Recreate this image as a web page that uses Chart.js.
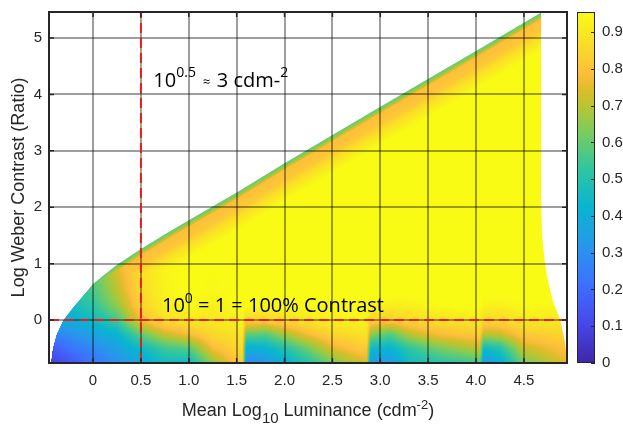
<!DOCTYPE html>
<html>
<head>
<meta charset="utf-8">
<script src="https://cdn.jsdelivr.net/npm/chart.js@4.4.0/dist/chart.umd.min.js"></script>
<style>
html, body { margin: 0; padding: 0; background: #fff; }
</style>
</head>
<body>
<canvas id="contrastChart" width="623" height="424"></canvas>
<script>
// axis ranges and ticks
const lumMin = -0.46, lumMax = 4.95;
const conMin = -0.76, conMax = 5.46;
const barMax = 0.955;
const lumTicks = [0, 0.5, 1, 1.5, 2, 2.5, 3, 3.5, 4, 4.5];
const conTicks = [0, 1, 2, 3, 4, 5];
const barTicks = [0, 0.1, 0.2, 0.3, 0.4, 0.5, 0.6, 0.7, 0.8, 0.9];

// reference lines (10^0.5 cd/m2 and 100% contrast)
const refLum = 0.5;
const refCon = 0;

// upper edge of the measured region
const edgeLum = [-0.44, -0.42, -0.38, -0.31, -0.2, -0.1, 0, 0.1, 0.25, 0.5, 0.75, 1.0, 1.5, 2.0, 3.0, 4.0, 4.67];
const edgeCon = [-0.76, -0.5, -0.25, 0, 0.24, 0.44, 0.64, 0.78, 0.98, 1.26, 1.52, 1.77, 2.26, 2.78, 3.78, 4.77, 5.44];

// right edge of the measured region
const rightCon = [-0.76, -0.4, 0, 0.35, 0.7, 1.0, 1.5, 2.1, 5.44];
const rightLum = [4.95, 4.93, 4.88, 4.8, 4.75, 4.72, 4.69, 4.68, 4.68];

// fall-off just under the upper edge (depth below edge -> value)
const bandDepth = [0, 0.04, 0.08, 0.12, 0.3, 0.45, 0.7];
const bandValue = [0.6, 0.63, 0.7, 0.79, 0.81, 0.88, 0.96];

// main field, rows follow gridCon, columns follow gridLum
const gridLum = [-0.45, -0.25, 0, 0.25, 0.5, 0.75, 1.0, 1.25, 1.5, 1.56, 1.6, 1.8, 2.0, 2.25, 2.5, 2.8, 2.86, 2.9, 3.1, 3.3, 3.6, 4.0, 4.04, 4.08, 4.25, 4.5, 4.95];
const gridCon = [-0.76, -0.5, -0.25, 0, 0.25, 0.5, 1.0, 1.5];
const gridValue = [
    [0.08, 0.14, 0.22, 0.30, 0.38, 0.45, 0.45, 0.65, 0.80, 0.82, 0.28, 0.30, 0.40, 0.50, 0.62, 0.72, 0.72, 0.32, 0.32, 0.45, 0.50, 0.55, 0.58, 0.32, 0.38, 0.62, 0.75],
    [0.15, 0.22, 0.28, 0.35, 0.45, 0.55, 0.58, 0.78, 0.85, 0.86, 0.40, 0.42, 0.50, 0.62, 0.75, 0.82, 0.82, 0.45, 0.42, 0.52, 0.62, 0.70, 0.72, 0.45, 0.50, 0.72, 0.80],
    [0.25, 0.30, 0.36, 0.42, 0.60, 0.72, 0.78, 0.86, 0.88, 0.90, 0.60, 0.58, 0.68, 0.78, 0.85, 0.88, 0.88, 0.65, 0.58, 0.70, 0.78, 0.82, 0.84, 0.70, 0.72, 0.82, 0.85],
    [0.38, 0.40, 0.45, 0.55, 0.78, 0.88, 0.90, 0.90, 0.92, 0.93, 0.85, 0.84, 0.87, 0.90, 0.92, 0.93, 0.93, 0.85, 0.82, 0.86, 0.88, 0.90, 0.90, 0.86, 0.86, 0.90, 0.90],
    [0.45, 0.45, 0.52, 0.65, 0.84, 0.92, 0.95, 0.92, 0.95, 0.96, 0.95, 0.94, 0.95, 0.95, 0.96, 0.96, 0.96, 0.93, 0.92, 0.92, 0.95, 0.96, 0.96, 0.93, 0.92, 0.95, 0.95],
    [0.50, 0.50, 0.56, 0.70, 0.86, 0.93, 0.96, 0.94, 0.96, 0.96, 0.96, 0.96, 0.96, 0.96, 0.96, 0.96, 0.96, 0.96, 0.96, 0.96, 0.96, 0.96, 0.96, 0.96, 0.96, 0.96, 0.96],
    [0.55, 0.55, 0.60, 0.75, 0.88, 0.94, 0.96, 0.96, 0.96, 0.96, 0.96, 0.96, 0.96, 0.96, 0.96, 0.96, 0.96, 0.96, 0.96, 0.96, 0.96, 0.96, 0.96, 0.96, 0.96, 0.96, 0.96],
    [0.60, 0.60, 0.65, 0.80, 0.90, 0.95, 0.96, 0.96, 0.96, 0.96, 0.96, 0.96, 0.96, 0.96, 0.96, 0.96, 0.96, 0.96, 0.96, 0.96, 0.96, 0.96, 0.96, 0.96, 0.96, 0.96, 0.96]
];

// parula colour map
const parulaPos = [0, 7, 14, 21, 28, 35, 42, 45, 49, 52, 56, 63].map(i => i / 63);
const parulaRgb = [
    [62, 38, 168], [71, 71, 235], [62, 111, 255], [39, 151, 235], [8, 181, 208], [49, 198, 159],
    [129, 204, 89], [171, 199, 57], [220, 189, 41], [254, 190, 60], [250, 214, 45], [249, 251, 21]
];

const axisColor = '#262626';
const gridColor = 'rgba(0,0,0,0.38)';
const tickFont = { family: 'Liberation Sans, Arial, sans-serif', size: 15 };

function interp(xs, ys, v) {
    if (v <= xs[0]) return ys[0];
    for (let i = 1; i < xs.length; i++) {
        if (v <= xs[i]) {
            const t = (v - xs[i - 1]) / (xs[i] - xs[i - 1]);
            return ys[i - 1] + t * (ys[i] - ys[i - 1]);
        }
    }
    return ys[ys.length - 1];
}

function locate(xs, v) {
    if (v <= xs[0]) return [0, 0];
    for (let i = 1; i < xs.length; i++) {
        if (v <= xs[i]) return [i - 1, (v - xs[i - 1]) / (xs[i] - xs[i - 1])];
    }
    return [xs.length - 2, 1];
}

function fieldAt(lum, con) {
    const [i, tx] = locate(gridLum, lum);
    const [j, ty] = locate(gridCon, con);
    const a = gridValue[j][i], b = gridValue[j][i + 1];
    const c = gridValue[j + 1][i], d = gridValue[j + 1][i + 1];
    return (a * (1 - tx) + b * tx) * (1 - ty) + (c * (1 - tx) + d * tx) * ty;
}

function parula(v) {
    const t = Math.max(0, Math.min(1, v / barMax));
    const [i, f] = locate(parulaPos, t);
    const a = parulaRgb[i], b = parulaRgb[i + 1];
    return [0, 1, 2].map(k => Math.round(a[k] + f * (b[k] - a[k])));
}

// write text made of normal / raised / lowered pieces
function drawRich(ctx, parts, x, y, family, align) {
    let total = 0;
    parts.forEach(p => {
        ctx.font = p.size + 'px ' + family;
        p.w = ctx.measureText(p.t).width;
        total += p.w;
    });
    let cx = align === 'center' ? x - total / 2 : x;
    ctx.textAlign = 'left';
    ctx.textBaseline = 'alphabetic';
    parts.forEach(p => {
        ctx.font = p.size + 'px ' + family;
        ctx.fillText(p.t, cx, y + (p.dy || 0));
        cx += p.w;
    });
}

// keep tick label padding from pushing the plot area around
function fixSize(prop, size) {
    return s => {
        s[prop] = size;
        s.paddingTop = 0;
        s.paddingBottom = 0;
        s.paddingLeft = 0;
        s.paddingRight = 0;
    };
}

const heatmapPlugin = {
    id: 'heatmap',
    beforeDraw(chart) {
        const { ctx, chartArea: area, scales } = chart;
        const xs = scales.x, ys = scales.y;
        const w = Math.round(area.right - area.left), h = Math.round(area.bottom - area.top);
        const off = document.createElement('canvas');
        off.width = w;
        off.height = h;
        const octx = off.getContext('2d');
        const img = octx.createImageData(w, h);
        for (let j = 0; j < h; j++) {
            const py = area.top + j;
            const con = ys.getValueForPixel(py + 0.5);
            const rightPx = xs.getPixelForValue(interp(rightCon, rightLum, con));
            for (let i = 0; i < w; i++) {
                const px = area.left + i;
                const lum = xs.getValueForPixel(px + 0.5);
                const k = (j * w + i) * 4;
                let col = [255, 255, 255];
                if (lum >= edgeLum[0] - 0.02) {
                    const top = interp(edgeLum, edgeCon, lum);
                    const edgePx = ys.getPixelForValue(top);
                    let cover = Math.max(0, Math.min(1, py + 1 - edgePx));
                    cover *= Math.max(0, Math.min(1, rightPx - px));
                    if (lum < edgeLum[0]) cover = 0;
                    if (cover > 0) {
                        const v = Math.min(interp(bandDepth, bandValue, top - con), fieldAt(lum, con));
                        const c = parula(v);
                        col = c.map(q => Math.round(255 + (q - 255) * cover));
                    }
                }
                img.data[k] = col[0];
                img.data[k + 1] = col[1];
                img.data[k + 2] = col[2];
                img.data[k + 3] = 255;
            }
        }
        octx.putImageData(img, 0, 0);
        ctx.drawImage(off, area.left, area.top);
    }
};

const framePlugin = {
    id: 'frame',
    afterDraw(chart) {
        const { ctx, chartArea: area, scales } = chart;
        ctx.save();
        // colour bar
        const cb = scales.cbar;
        const barLeft = area.right + 10, barWidth = 18;
        const top = Math.round(cb.getPixelForValue(barMax)), bottom = Math.round(cb.getPixelForValue(0));
        for (let py = top; py < bottom; py++) {
            const c = parula(cb.getValueForPixel(py + 0.5));
            ctx.fillStyle = 'rgb(' + c.join(',') + ')';
            ctx.fillRect(barLeft, py, barWidth, 1);
        }
        ctx.strokeStyle = axisColor;
        ctx.lineWidth = 1;
        ctx.strokeRect(barLeft + 0.5, top + 0.5, barWidth - 1, bottom - top - 1);
        barTicks.forEach(v => {
            const py = Math.round(cb.getPixelForValue(v)) + 0.5;
            ctx.beginPath();
            ctx.moveTo(barLeft + barWidth - 4, py);
            ctx.lineTo(barLeft + barWidth, py);
            ctx.stroke();
        });

        // axes box with inward ticks
        ctx.lineWidth = 2;
        ctx.strokeRect(area.left, area.top, area.right - area.left, area.bottom - area.top);
        ctx.lineWidth = 1.5;
        ctx.beginPath();
        lumTicks.forEach(v => {
            const px = scales.x.getPixelForValue(v);
            ctx.moveTo(px, area.bottom); ctx.lineTo(px, area.bottom - 5);
            ctx.moveTo(px, area.top); ctx.lineTo(px, area.top + 5);
        });
        conTicks.forEach(v => {
            const py = scales.y.getPixelForValue(v);
            ctx.moveTo(area.left, py); ctx.lineTo(area.left + 5, py);
            ctx.moveTo(area.right, py); ctx.lineTo(area.right - 5, py);
        });
        ctx.stroke();

        // x axis title
        ctx.fillStyle = axisColor;
        drawRich(ctx, [
            { t: 'Mean Log', size: 18 },
            { t: '10', size: 15, dy: 7 },
            { t: ' Luminance (cdm', size: 18 },
            { t: '-2', size: 13, dy: -7 },
            { t: ')', size: 18 }
        ], (area.left + area.right) / 2, 416, 'Liberation Sans, Arial, sans-serif', 'center');

        // notes on the reference lines
        ctx.fillStyle = '#000';
        const note = 'Open Sans, sans-serif';
        drawRich(ctx, [
            { t: '10', size: 20 },
            { t: '0.5', size: 14, dy: -10 },
            { t: '  \u2248  ', size: 13, dy: -1 },
            { t: '3 cdm-', size: 20 },
            { t: '2', size: 14, dy: -10 }
        ], scales.x.getPixelForValue(0.63), scales.y.getPixelForValue(4.13), note, 'left');
        drawRich(ctx, [
            { t: '10', size: 20 },
            { t: '0', size: 14, dy: -9 },
            { t: ' = 1 = 100% Contrast', size: 20 }
        ], scales.x.getPixelForValue(0.72), scales.y.getPixelForValue(0.14), note, 'left');
        ctx.restore();
    }
};

const refLine = {
    showLine: true,
    borderColor: '#e3211c',
    borderWidth: 2,
    borderDash: [10, 5],
    pointRadius: 0,
    fill: false
};

const ctxContrast = document.getElementById('contrastChart').getContext('2d');
const contrastChart = new Chart(ctxContrast, {
    type: 'scatter',
    data: {
        datasets: [
            { ...refLine, data: [{ x: refLum, y: conMin }, { x: refLum, y: conMax }] },
            { ...refLine, data: [{ x: lumMin, y: refCon }, { x: lumMax, y: refCon }] }
        ]
    },
    options: {
        responsive: false,
        animation: false,
        devicePixelRatio: 1,
        layout: { padding: { top: 12, left: 0, right: 0, bottom: 0 } },
        plugins: {
            legend: { display: false },
            tooltip: { enabled: false }
        },
        scales: {
            x: {
                type: 'linear',
                min: lumMin,
                max: lumMax,
                afterBuildTicks: s => { s.ticks = lumTicks.map(v => ({ value: v })); },
                afterFit: fixSize('height', 61),
                ticks: { font: tickFont, color: axisColor, padding: 9, maxRotation: 0, autoSkip: false },
                grid: { color: gridColor, lineWidth: 2, drawTicks: false },
                border: { display: false }
            },
            y: {
                type: 'linear',
                min: conMin,
                max: conMax,
                afterBuildTicks: s => { s.ticks = conTicks.map(v => ({ value: v })); },
                afterFit: fixSize('width', 49),
                ticks: { font: tickFont, color: axisColor, padding: 7 },
                grid: { color: gridColor, lineWidth: 2, drawTicks: false },
                border: { display: false },
                title: {
                    display: true,
                    text: 'Log Weber Contrast (Ratio)',
                    font: { family: 'Liberation Sans, Arial, sans-serif', size: 18 },
                    color: axisColor,
                    padding: { top: 8, bottom: 0 }
                }
            },
            cbar: {
                type: 'linear',
                position: 'right',
                min: 0,
                max: barMax,
                afterBuildTicks: s => { s.ticks = barTicks.map(v => ({ value: v })); },
                afterFit: fixSize('width', 56),
                ticks: { font: tickFont, color: axisColor, padding: 35, callback: v => String(v) },
                grid: { display: false, drawTicks: false },
                border: { display: false }
            }
        }
    },
    plugins: [heatmapPlugin, framePlugin]
});
</script>
</body>
</html>
